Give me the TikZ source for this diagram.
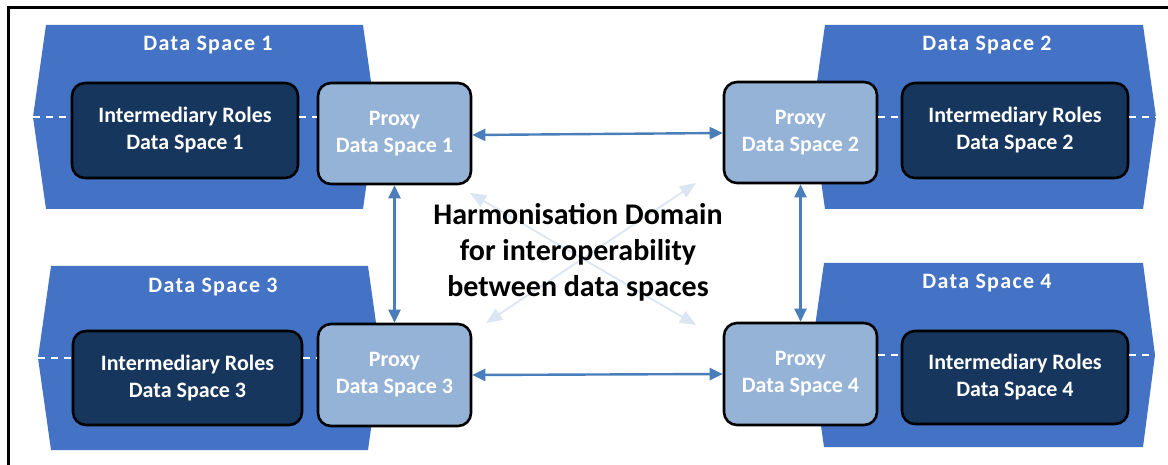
\documentclass[tikz,border=0pt]{standalone}
\usepackage{fontspec}
\setmainfont{Carlito}
\usetikzlibrary{arrows.meta}
\definecolor{dsfill}{HTML}{4472C4}
\definecolor{imfill}{HTML}{17365D}
\definecolor{pxfill}{HTML}{95B3D7}
\definecolor{arrblue}{HTML}{4A7EBB}
\definecolor{faint}{HTML}{DCE6F2}
\tikzset{
  dspace/.style={fill=dsfill, draw=none},
  dstitle/.style={text=white, font=\bfseries\fontsize{22}{26}\selectfont\addfontfeature{LetterSpace=6}, inner sep=0pt},
  imbox/.style={fill=imfill, draw=black, line width=2.6pt, rounded corners=13pt, text=white,
    align=center, font=\bfseries\fontsize{22}{27}\selectfont, inner sep=0pt},
  pxbox/.style={fill=pxfill, draw=black, line width=2.6pt, rounded corners=13pt, text=white,
    align=center, font=\bfseries\fontsize{22}{27}\selectfont, inner sep=0pt, minimum width=153pt},
  dashln/.style={draw=white, line width=1.5pt, dash pattern=on 7pt off 6pt},
  link/.style={draw=arrblue, line width=2.4pt, {Triangle[length=13pt,width=12pt]}-{Triangle[length=13pt,width=12pt]}},
  faintlink/.style={draw=faint, line width=1.8pt, {Triangle[length=16pt,width=13pt]}-{Triangle[length=16pt,width=13pt]}},
  frame/.style={draw=black, line width=3pt}
}
\begin{document}
\begin{tikzpicture}[x=1pt,y=-1pt]
\clip (0,0) rectangle (1168,465);
\useasboundingbox (0,0) rectangle (1168,465);
\fill[white] (0,0) rectangle (1168,465);
\draw[frame] (8,8) rectangle (1180,480);
% data space shapes
\path[dspace] (46,25) -- (363,25) -- (376,117) -- (363,209) -- (46,209) -- (33,117) -- cycle;
\path[dspace] (825,25) -- (1143,25) -- (1156,117) -- (1143,209) -- (825,209) -- (812,117) -- cycle;
\path[dspace] (51,266) -- (368,266) -- (381,358) -- (368,450) -- (51,450) -- (38,358) -- cycle;
\path[dspace] (824,263) -- (1143,263) -- (1155,355) -- (1143,447) -- (824,447) -- (811,355) -- cycle;
\node[dstitle] (t1) at (208,45) {Data Space 1};
\node[dstitle] (t2) at (987,45) {Data Space 2};
\node[dstitle] (t3) at (213,287) {Data Space 3};
\node[dstitle] (t4) at (987,283) {Data Space 4};
\coordinate (w1) at (33,117);
\coordinate (e2) at (1156,117);
\coordinate (w3) at (38,358);
\coordinate (e4) at (1155,355);
% boxes
\node[imbox, minimum width=226pt, minimum height=95pt] (I1) at (185,130.5) {Intermediary Roles\\Data Space 1};
\node[pxbox, minimum height=101pt] (P1) at (394.5,133.5) {Proxy\\Data Space 1};
\node[pxbox, minimum height=101pt] (P2) at (800.5,132.5) {Proxy\\Data Space 2};
\node[imbox, minimum width=226pt, minimum height=95pt] (I2) at (1015,130.5) {Intermediary Roles\\Data Space 2};
\node[imbox, minimum width=229pt, minimum height=94pt] (I3) at (187.5,378) {Intermediary Roles\\Data Space 3};
\node[pxbox, minimum height=102pt] (P3) at (394.5,375) {Proxy\\Data Space 3};
\node[pxbox, minimum height=102pt] (P4) at (800.5,374) {Proxy\\Data Space 4};
\node[imbox, minimum width=226pt, minimum height=93pt] (I4) at (1015,377.5) {Intermediary Roles\\Data Space 4};
% dashed lines
\draw[dashln] (w1) -- (w1 -| I1.west);
\draw[dashln] (I1.east |- w1) -- (P1.west |- w1);
\draw[dashln] (P2.east |- e2) -- (I2.west |- e2);
\draw[dashln] (I2.east |- e2) -- (e2);
\draw[dashln] (w3) -- (w3 -| I3.west);
\draw[dashln] (I3.east |- w3) -- (P3.west |- w3);
\draw[dashln] (P4.east |- e4) -- (I4.west |- e4);
\draw[dashln] (I4.east |- e4) -- (e4);
% faint diagonal arrows
\coordinate (fa1) at (470,193);
\coordinate (fa2) at (696,325);
\coordinate (fb1) at (486,323);
\coordinate (fb2) at (696,183);
\draw[faintlink] (fa1) -- (fa2);
\draw[faintlink] (fb1) -- (fb2);
% links
\draw[link] ([yshift=-1.5pt]P1.east) -- ([yshift=-0.5pt]P2.west);
\draw[link] (P3.east) -- (P4.west);
\draw[link] (P1.south) -- (P3.north);
\draw[link] (P2.south) -- (P4.north);
% center text
\node[align=center, font=\bfseries\fontsize{30}{36}\selectfont, inner sep=0pt] (hd) at (578,252)
  {Harmonisation Domain\\for interoperability\\between data spaces};
\end{tikzpicture}
\end{document}
